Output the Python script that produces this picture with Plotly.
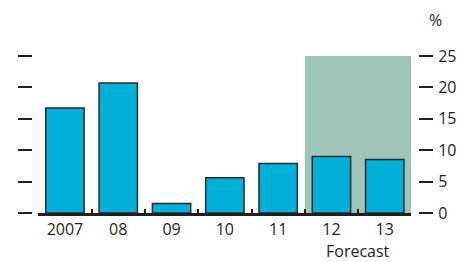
import plotly.graph_objects as go

categories = ["2007", "08", "09", "10", "11", "12", "13"]
values = [16.7, 20.7, 1.5, 5.6, 7.9, 9.0, 8.5]
y_ticks = [0, 5, 10, 15, 20, 25]
forecast_label = "Forecast"
unit_label = "%"

DARK = "#231f20"
FONT = "Open Sans"

# page body has an 8px default margin, so work in shifted coordinates
OFF = 8
W, H = 471 - OFF, 262 - OFF
left_px, right_px = 32 - OFF, 418.3 - OFF
top_px, bottom_px = 56 - OFF, 213.3 - OFF
paper_w = right_px - left_px
paper_h = bottom_px - top_px
dom0 = (38.3 - OFF - left_px) / paper_w
dom1 = (411.7 - OFF - left_px) / paper_w

fig = go.Figure()
fig.add_trace(go.Bar(
    x=categories, y=values, width=0.72,
    marker=dict(color="#00b0d8", line=dict(color="#2b2b2b", width=1.5)),
    showlegend=False, hoverinfo="skip",
))

fig.add_shape(type="rect", xref="x", yref="y", x0=4.5, x1=6.5, y0=0, y1=25,
              fillcolor="#9fc5b9", line=dict(width=0), layer="below")

fig.update_layout(
    width=W, height=H,
    margin=dict(l=left_px, r=W - right_px, t=top_px, b=H - bottom_px, pad=0,
                autoexpand=False),
    paper_bgcolor="white", plot_bgcolor="white",
    font=dict(family=FONT, size=16, color=DARK),
    xaxis=dict(domain=[dom0, dom1], type="category", showline=True, linewidth=3,
               linecolor=DARK, ticks="inside", tickson="boundaries", ticklen=4,
               tickwidth=1.5, tickcolor=DARK, showgrid=False, zeroline=False,
               tickfont=dict(size=16, family=FONT, color=DARK), anchor="y",
               automargin=False),
    yaxis=dict(range=[0, 25], tickvals=y_ticks, side="right", anchor="free", position=1,
               ticks="outside", ticklen=14, tickwidth=1.5, tickcolor=DARK,
               showgrid=False, zeroline=False, showline=False,
               ticklabelstandoff=2, automargin=False,
               tickfont=dict(size=16, family=FONT, color=DARK)),
    yaxis2=dict(range=[0, 25], tickvals=y_ticks, side="left", anchor="free", position=0,
                overlaying="y", matches="y", ticks="outside", ticklen=14, tickwidth=1.5,
                tickcolor=DARK, showticklabels=False, showgrid=False, zeroline=False,
                showline=False, automargin=False),
    bargap=0.28,
)

# invisible trace to activate yaxis2
fig.add_trace(go.Scatter(x=[categories[0]], y=[0], yaxis="y2", mode="markers",
                         marker=dict(opacity=0), showlegend=False, hoverinfo="skip"))

fig.add_annotation(x=5.5, xref="x", y=0, yref="y", yshift=-38, yanchor="middle",
                   text=forecast_label, showarrow=False, borderpad=0,
                   font=dict(size=16, family=FONT, color=DARK))
fig.add_annotation(x=(444 - OFF - left_px) / paper_w, xref="paper",
                   y=(bottom_px - (20 - OFF)) / paper_h, yref="paper",
                   text=unit_label, showarrow=False, yanchor="middle",
                   font=dict(size=16, family=FONT, color=DARK))

fig.write_html("out.html")
